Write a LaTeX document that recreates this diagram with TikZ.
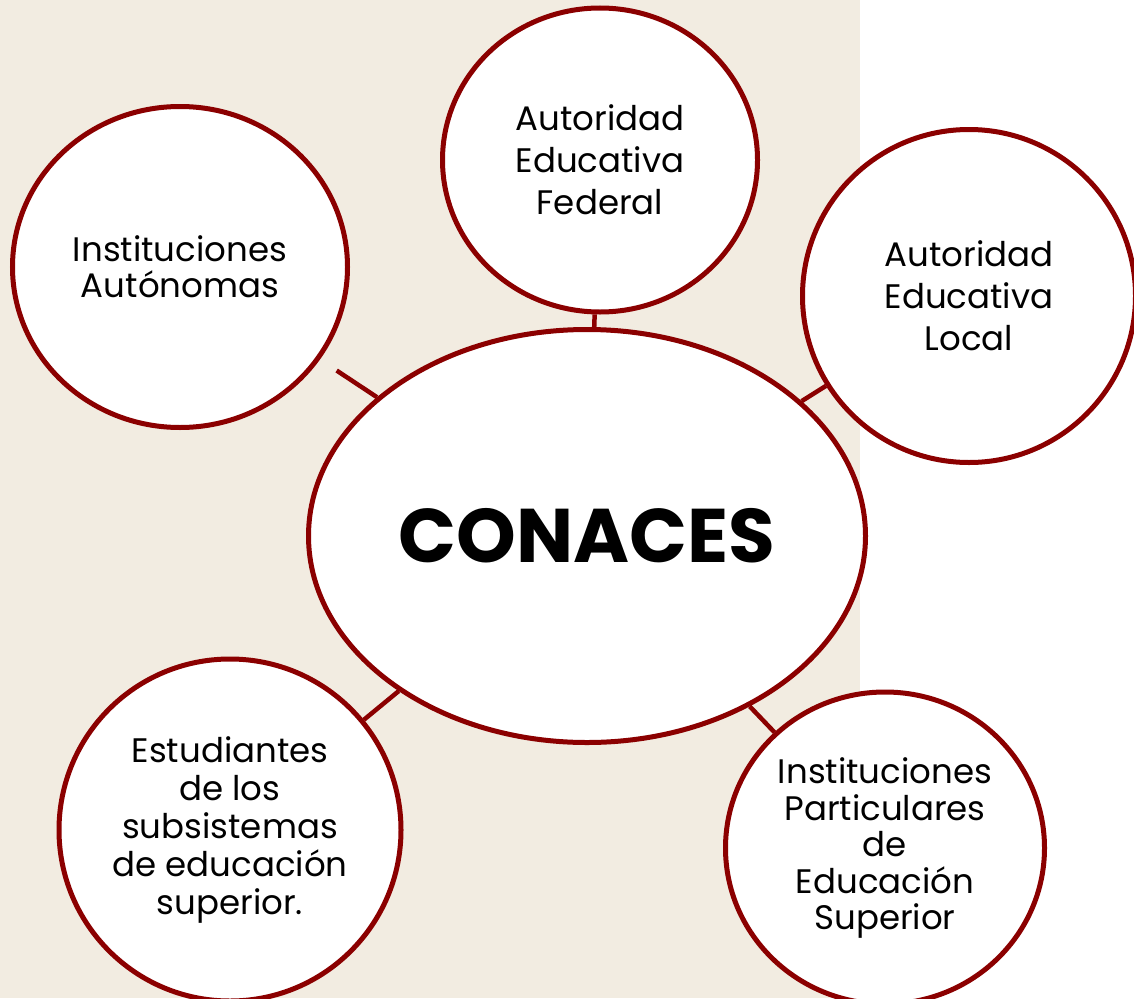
\documentclass[tikz,border=0pt]{standalone}
\usepackage{fontspec}
\setmainfont{Poppins}
\usetikzlibrary{shapes.geometric}
\definecolor{dred}{HTML}{8B0000}
\definecolor{beige}{HTML}{F2ECE1}
\tikzset{
  bub/.style={ellipse, draw=dred, line width=5pt, fill=white, inner sep=0pt, align=center, text=black},
  link/.style={draw=dred, line width=4.5pt}
}
\begin{document}
\begin{tikzpicture}[x=1pt,y=-1pt]
\useasboundingbox (0,0) rectangle (1134,998);
\fill[beige] (0,0) rectangle (860,998);
\begin{scope}
\clip (0,0) rectangle (1134,998);
\node[bub, minimum width=557pt, minimum height=413pt, font=\fontsize{76}{88}\selectfont\bfseries] (con) at (587,536) {CONACES};
\node[bub, minimum width=335pt, minimum height=321pt, font=\fontsize{34}{36}\selectfont] (aut) at (180,267) {Instituciones\\Autónomas};
\node[bub, minimum width=315pt, minimum height=304pt, font=\fontsize{34}{42}\selectfont] (fed) at (600,160) {Autoridad\\Educativa\\Federal};
\node[bub, minimum width=333pt, minimum height=333pt, font=\fontsize{34}{42}\selectfont] (loc) at (969,296) {Autoridad\\Educativa\\Local};
\node[bub, minimum width=342pt, minimum height=342pt, font=\fontsize{34}{38}\selectfont] (est) at (230,830) {Estudiantes\\de los\\subsistemas\\de educación\\superior.};
\node[bub, minimum width=319pt, minimum height=312pt, font=\fontsize{34}{36.5}\selectfont] (par) at (885,848) {Instituciones\\Particulares\\de\\Educación\\Superior};
\end{scope}
\draw[link, shorten <=20pt] (aut) -- (con);
\draw[link] (fed) -- (con);
\draw[link] (loc) -- (con);
\draw[link] (est) -- (con);
\draw[link] (par) -- (con);
\end{tikzpicture}
\end{document}
